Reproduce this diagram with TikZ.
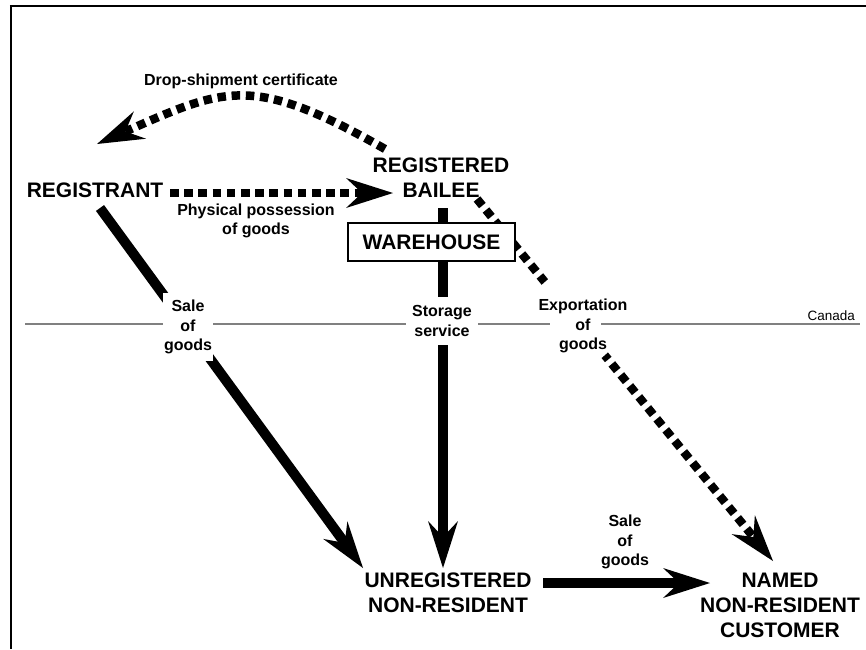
\documentclass[tikz,border=0pt]{standalone}
\usepackage{fontspec}
\setmainfont{Liberation Sans}
\usetikzlibrary{arrows.meta}
\begin{document}
\begin{tikzpicture}[x=1pt,y=-1pt,
  big/.style={font=\fontsize{21}{25}\selectfont\bfseries, align=center, inner sep=0pt},
  small/.style={font=\fontsize{16}{19.5}\selectfont\bfseries, align=center, inner sep=0pt},
  tipA/.style={-{Stealth[length=47pt,width=30pt,inset=16pt,line width=0pt]}},
  solidline/.style={line width=10pt, tipA},
  dotline/.style={line width=8.5pt, dash pattern=on 8.5pt off 5.7pt, tipA},
  gapbox/.style={fill=white}
]
\useasboundingbox (0,0) rectangle (866,649);
% frame
\draw[line width=2.5pt] (9.8,6) -- (866,6);
\draw[line width=1.5pt] (10.8,5) -- (10.8,649);
% border line
\draw[gray, line width=1.5pt] (25,324) -- (860,324);
\node[anchor=base east, inner sep=0pt, font=\fontsize{13.5}{16}\selectfont] (canada) at (855,320) {Canada};

% coordinates for connector ends
\coordinate (c1s) at (385,149);
\coordinate (c1e) at (97,144);
\coordinate (h1s) at (170,193);
\coordinate (h1e) at (393,193);
\coordinate (d1s) at (100,208);
\coordinate (d1e) at (363,568);
\coordinate (v1s) at (443,208);
\coordinate (v1e) at (443,568);
\coordinate (d2s) at (477,199);
\coordinate (d2e) at (773,561);
\coordinate (h2s) at (543,583);
\coordinate (h2e) at (710,583);

% connectors
\draw[dotline] (c1s) .. controls (253,74) and (226,87) .. (c1e);
\draw[dotline] (h1s) -- (h1e);
\draw[solidline] (d1s) -- (d1e);
\draw[solidline] (v1s) -- (v1e);
\draw[dotline] (d2s) -- (d2e);
\draw[solidline] (h2s) -- (h2e);

% gaps in lines under the exportation label
\fill[white] (553,275) -- (537,289) -- (598,361) -- (614,347) -- cycle;
\fill[white] (550,319) rectangle (601,329);

% labels
\node[small] (drop) at (241,81) {Drop-shipment certificate};
\node[small] (phys) at (256,221) {Physical possession\\of goods};
\node[small, gapbox, inner xsep=1pt, inner ysep=7pt] (sale1) at (188,327) {Sale\\of\\goods};
\node[small, gapbox, inner xsep=6.5pt, inner ysep=8.5pt] (storage) at (442,321) {Storage\\service};
\node[small] (export) at (583,326) {Exportation\\of\\goods};
\node[small] (sale2) at (625,542) {Sale\\of\\goods};

% main nodes
\node[big, anchor=base] (registrant) at (95,197) {REGISTRANT};
\node[big] (bailee) at (441,178) {REGISTERED\\BAILEE};
\node[big, draw, line width=1.5pt, fill=white, minimum width=167pt, minimum height=38pt] (warehouse) at (431.5,242) {WAREHOUSE};
\node[big] (unreg) at (448,593) {UNREGISTERED\\NON-RESIDENT};
\node[big] (named) at (780,605) {NAMED\\NON-RESIDENT\\CUSTOMER};
\end{tikzpicture}
\end{document}
